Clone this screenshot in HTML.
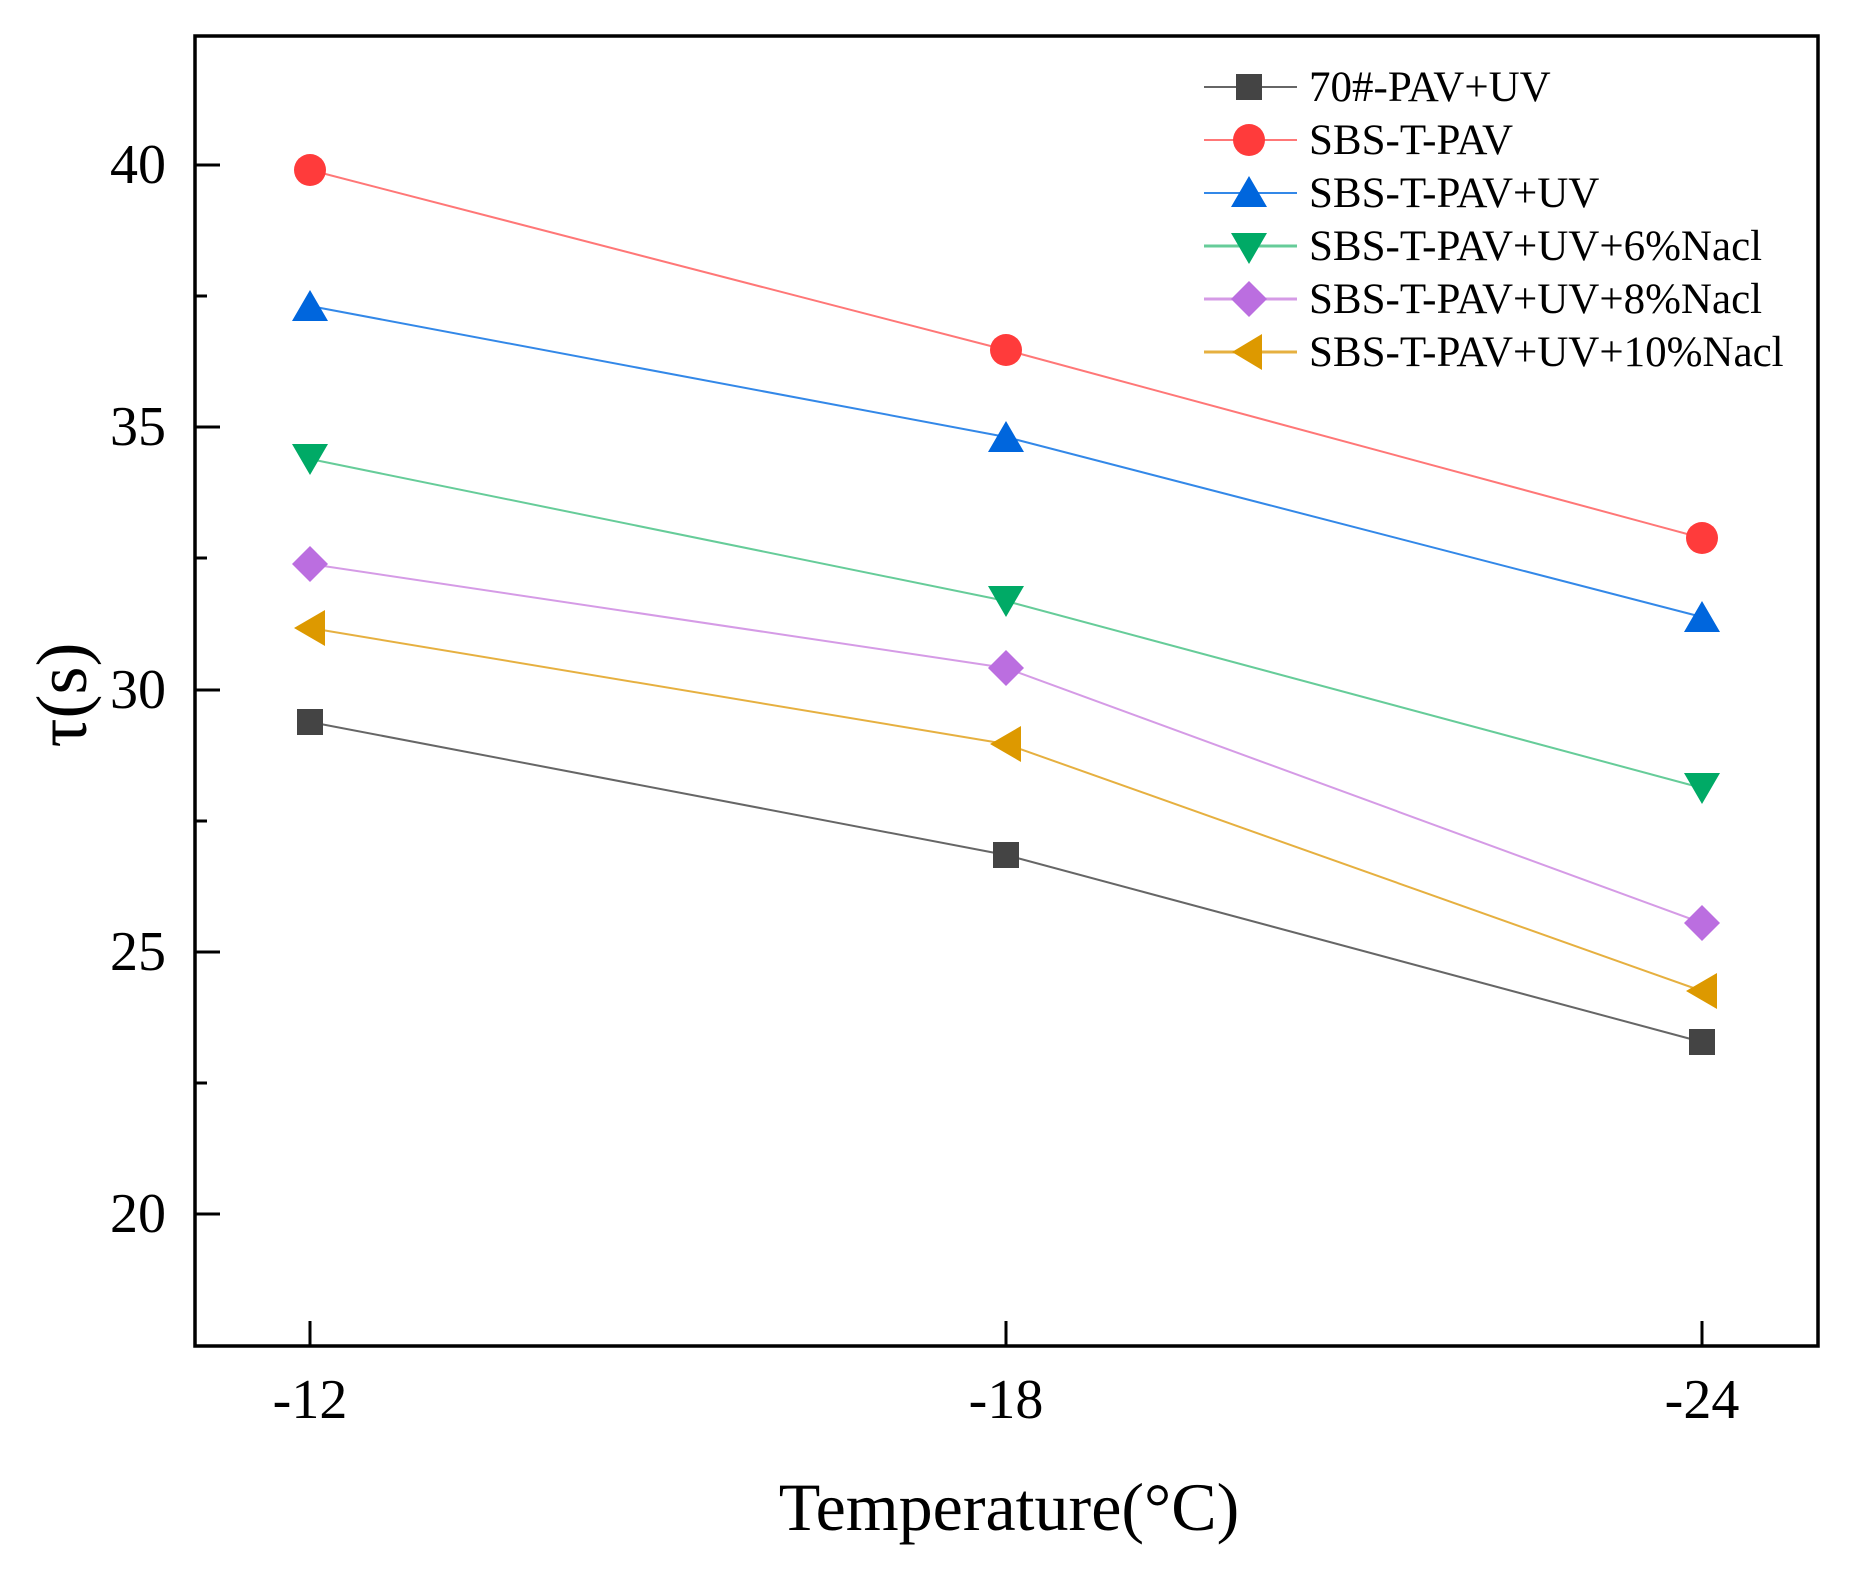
<!DOCTYPE html>
<html><head><meta charset="utf-8"><style>html,body{margin:0;padding:0;background:#fff}svg{display:block}</style></head>
<body>
<svg width="1861" height="1571" viewBox="0 0 1861 1571" xmlns="http://www.w3.org/2000/svg" font-family="Liberation Serif, serif">
<rect width="1861" height="1571" fill="#fff"/>
<rect x="195" y="36" width="1623" height="1310" fill="none" stroke="#000" stroke-width="3.5"/>
<g stroke="#000" stroke-width="3">
<line x1="195" y1="165" x2="220" y2="165"/><line x1="195" y1="427" x2="220" y2="427"/>
<line x1="195" y1="690" x2="220" y2="690"/><line x1="195" y1="952" x2="220" y2="952"/>
<line x1="195" y1="1214" x2="220" y2="1214"/>
<line x1="195" y1="296" x2="207" y2="296"/><line x1="195" y1="558" x2="207" y2="558"/>
<line x1="195" y1="821" x2="207" y2="821"/><line x1="195" y1="1083" x2="207" y2="1083"/>
<line x1="310" y1="1346" x2="310" y2="1321"/><line x1="1006" y1="1346" x2="1006" y2="1321"/><line x1="1702" y1="1346" x2="1702" y2="1321"/>
</g>
<g font-size="56" fill="#000" text-anchor="end">
<text x="166" y="183">40</text><text x="166" y="445">35</text><text x="166" y="708">30</text><text x="166" y="970">25</text><text x="166" y="1232">20</text>
</g>
<g font-size="56" fill="#000" text-anchor="middle">
<text x="310" y="1418">-12</text><text x="1006" y="1418">-18</text><text x="1702" y="1418">-24</text>
</g>
<text x="1009" y="1530" font-size="68" text-anchor="middle">Temperature(°C)</text>
<text transform="translate(86,695) rotate(-90)" font-size="72" text-anchor="middle">τ(s)</text>
<g fill="none" stroke-width="2">
<polyline stroke="#666" points="310,722 1006,855 1702,1042"/>
<polyline stroke="#f77" points="310,170 1006,350 1702,538"/>
<polyline stroke="#3388e8" points="310,306 1006,437 1702,617"/>
<polyline stroke="#66cc99" points="310,459 1006,601 1702,788"/>
<polyline stroke="#d59be6" points="310,564 1006,668 1702,923"/>
<polyline stroke="#e6b040" points="310,628 1006,744 1702,991"/>
</g>
<g fill="#444"><rect x="297" y="709" width="26" height="26"/><rect x="993" y="842" width="26" height="26"/><rect x="1689" y="1029" width="26" height="26"/></g>
<g fill="#ff3b3b"><circle cx="310" cy="170" r="16"/><circle cx="1006" cy="350" r="16"/><circle cx="1702" cy="538" r="16"/></g>
<g fill="#0066dd"><polygon points="310,290 292,321 328,321"/><polygon points="1006,421 988,452 1024,452"/><polygon points="1702,601 1684,632 1720,632"/></g>
<g fill="#00aa66"><polygon points="310,475 292,444 328,444"/><polygon points="1006,617 988,586 1024,586"/><polygon points="1702,804 1684,773 1720,773"/></g>
<g fill="#bb6ee0"><polygon points="310,546 328,564 310,582 292,564"/><polygon points="1006,650 1024,668 1006,686 988,668"/><polygon points="1702,905 1720,923 1702,941 1684,923"/></g>
<g fill="#dd9900"><polygon points="294,628 325,610 325,646"/><polygon points="990,744 1021,726 1021,762"/><polygon points="1686,991 1717,973 1717,1009"/></g>
<g stroke-width="2">
<line x1="1204" y1="87" x2="1297" y2="87" stroke="#666"/>
<line x1="1204" y1="140" x2="1297" y2="140" stroke="#f77"/>
<line x1="1204" y1="193" x2="1297" y2="193" stroke="#3388e8"/>
<line x1="1204" y1="246" x2="1297" y2="246" stroke="#66cc99" stroke-width="3"/>
<line x1="1204" y1="299" x2="1297" y2="299" stroke="#d59be6" stroke-width="3"/>
<line x1="1204" y1="352" x2="1297" y2="352" stroke="#e6b040" stroke-width="3"/>
</g>
<rect x="1236" y="74" width="26" height="26" fill="#444"/>
<circle cx="1249" cy="140" r="16" fill="#ff3b3b"/>
<polygon points="1249,176 1231,207 1267,207" fill="#0066dd"/>
<polygon points="1249,264 1231,233 1267,233" fill="#00aa66"/>
<polygon points="1249,281 1267,299 1249,317 1231,299" fill="#bb6ee0"/>
<polygon points="1232,352 1262,334 1262,370" fill="#dd9900"/>
<g font-size="43" fill="#000">
<text x="1309" y="101">70#-PAV+UV</text>
<text x="1309" y="154">SBS-T-PAV</text>
<text x="1309" y="207">SBS-T-PAV+UV</text>
<text x="1309" y="260">SBS-T-PAV+UV+6%Nacl</text>
<text x="1309" y="313">SBS-T-PAV+UV+8%Nacl</text>
<text x="1309" y="366">SBS-T-PAV+UV+10%Nacl</text>
</g>
</svg>
</body></html>
